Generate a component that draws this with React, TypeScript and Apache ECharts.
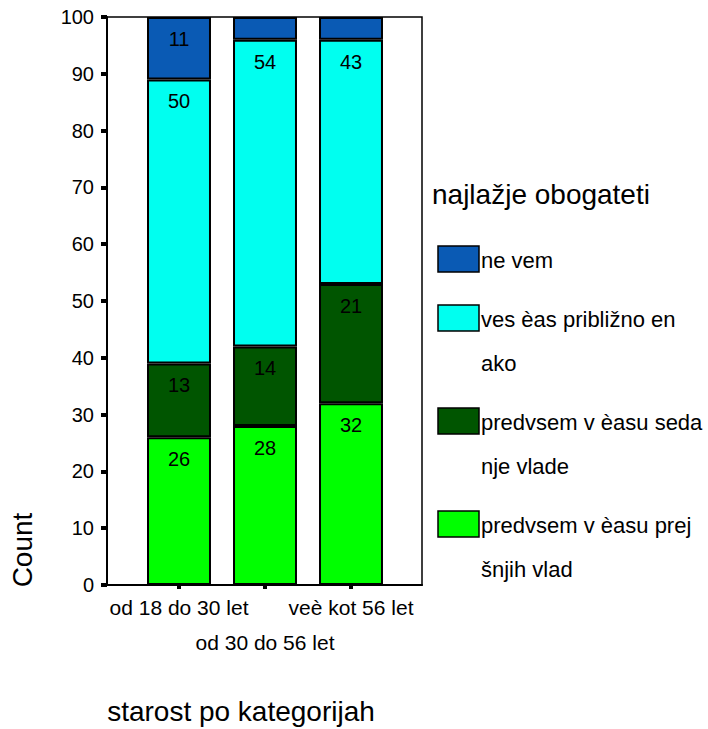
import React, { useEffect, useRef } from "react";
import * as echarts from "echarts";

const categories = ["od 18 do 30 let", "od 30 do 56 let", "veè kot 56 let"];
const seriesNames = [
  "predvsem v èasu prejšnjih vlad",
  "predvsem v èasu sedanje vlade",
  "ves èas približno enako",
  "ne vem",
];
const legendLines = [
  ["predvsem v èasu prej", "šnjih vlad"],
  ["predvsem v èasu seda", "nje vlade"],
  ["ves èas približno en", "ako"],
  ["ne vem"],
];
const prejsnjeVlade = [26, 28, 32];
const sedanjeVlade = [13, 14, 21];
const pribliznoEnako = [50, 54, 43];
const neVem = [11, 4, 4];
const seriesValues = [prejsnjeVlade, sedanjeVlade, pribliznoEnako, neVem];
const colors = ["#00ff00", "#005500", "#00fff0", "#0a5ab4"];
const yMin = 0;
const yMax = 100;
const yInterval = 10;
const legendTitle = "najlažje obogateti";
const xTitle = "starost po kategorijah";
const yTitle = "Count";

const FONT = "'Liberation Sans', Arial, sans-serif";

export default function App() {
  const ref = useRef<HTMLDivElement>(null);
  useEffect(() => {
    if (!ref.current) return;
    const chart = echarts.init(ref.current, null, { renderer: "svg" });

    const legendGraphics: any[] = [];
    let y = 246;
    for (let k = seriesNames.length - 1; k >= 0; k--) {
      const lines = legendLines[k];
      legendGraphics.push({
        type: "rect",
        shape: { x: 438, y: y, width: 41, height: 26 },
        style: { fill: colors[k], stroke: "#000", lineWidth: 1.5 },
      });
      lines.forEach((ln, li) => {
        legendGraphics.push({
          type: "text",
          x: 481,
          y: y + 14 + li * 44,
          style: {
            text: ln,
            fill: "#000",
            font: `22px ${FONT}`,
            textAlign: "left",
            textVerticalAlign: "middle",
          },
        });
      });
      y += lines.length * 44 + 15;
    }

    const option: any = {
      animation: false,
      backgroundColor: "#fff",
      grid: [
        {
          left: 107,
          top: 17,
          width: 315,
          height: 568,
          show: true,
          borderColor: "#000",
          borderWidth: 1.5,
          backgroundColor: "transparent",
        },
        { left: 136, top: 17, width: 258, height: 568 },
      ],
      xAxis: [
        {
          gridIndex: 0,
          type: "value",
          min: 0,
          max: 1,
          axisLine: { show: true, lineStyle: { color: "#000", width: 2 } },
          axisTick: { show: false },
          axisLabel: { show: false },
          splitLine: { show: false },
        },
        {
          gridIndex: 1,
          type: "category",
          data: categories,
          axisLine: { show: false },
          axisTick: {
            show: true,
            alignWithLabel: true,
            length: 4,
            lineStyle: { color: "#000", width: 4 },
          },
          axisLabel: {
            color: "#000",
            fontFamily: FONT,
            fontSize: 21,
            lineHeight: 35,
            margin: 5,
            interval: 0,
            formatter: (v: string, i: number) => (i % 2 === 1 ? "\n" + v : v),
          },
          splitLine: { show: false },
        },
      ],
      yAxis: [
        {
          gridIndex: 0,
          type: "value",
          min: yMin,
          max: yMax,
          interval: yInterval,
          axisLine: { show: true, lineStyle: { color: "#000", width: 2 } },
          axisTick: {
            show: true,
            length: 6,
            lineStyle: { color: "#000", width: 4 },
          },
          axisLabel: {
            color: "#000",
            fontFamily: FONT,
            fontSize: 20,
            margin: 13,
          },
          splitLine: { show: false },
        },
        {
          gridIndex: 1,
          type: "value",
          min: yMin,
          max: yMax,
          show: false,
          splitLine: { show: false },
        },
      ],
      series: seriesNames.map((name, k) => ({
        name,
        type: "bar",
        stack: "total",
        xAxisIndex: 1,
        yAxisIndex: 1,
        barCategoryGap: "25.6%",
        data: seriesValues[k],
        itemStyle: { color: colors[k], borderColor: "#000", borderWidth: 2 },
        label: {
          show: true,
          position: "insideTop",
          distance: 12,
          color: "#000",
          fontFamily: FONT,
          fontSize: 20,
          formatter: (p: any) => (p.value >= 5 ? String(p.value) : ""),
        },
        z: 3,
      })),
      graphic: [
        {
          type: "text",
          x: 432,
          y: 194,
          style: {
            text: legendTitle,
            fill: "#000",
            font: `28px ${FONT}`,
            textAlign: "left",
            textVerticalAlign: "middle",
          },
        },
        ...legendGraphics,
        {
          type: "text",
          x: 241,
          y: 711,
          style: {
            text: xTitle,
            fill: "#000",
            font: `28px ${FONT}`,
            textAlign: "center",
            textVerticalAlign: "middle",
          },
        },
        {
          type: "text",
          x: 22,
          y: 550,
          rotation: Math.PI / 2,
          style: {
            text: yTitle,
            fill: "#000",
            font: `28px ${FONT}`,
            textAlign: "center",
            textVerticalAlign: "middle",
          },
        },
      ],
    };
    chart.setOption(option);
    return () => chart.dispose();
  }, []);
  return (
    <div
      ref={ref}
      style={{ position: "absolute", left: 0, top: 0, width: 708, height: 729, background: "#fff" }}
    />
  );
}
